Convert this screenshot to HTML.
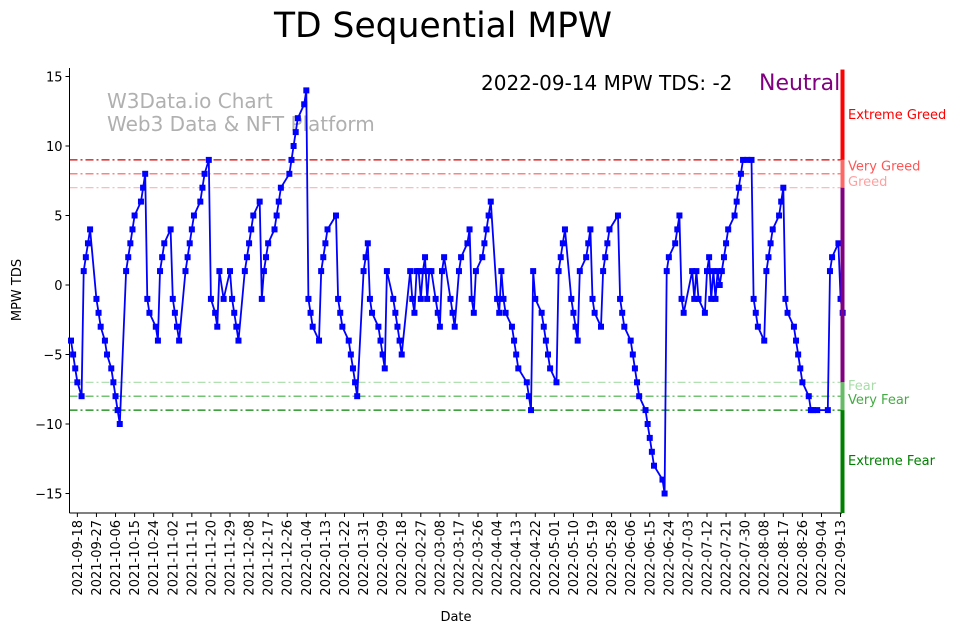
<!DOCTYPE html>
<html><head><meta charset="utf-8"><style>
html,body{margin:0;padding:0;background:#fff;}
svg{display:block;font-family:"DejaVu Sans","Liberation Sans",sans-serif;}
</style></head><body>
<svg id="chart" width="962" height="633" viewBox="0 0 962 633" xmlns="http://www.w3.org/2000/svg">
<text x="443" y="37" font-size="34.5" text-anchor="middle" fill="#000">TD Sequential MPW</text>
<text x="107" y="108" font-size="20" fill="#b0b0b0">W3Data.io Chart</text>
<text x="107" y="131" font-size="20" fill="#b0b0b0">Web3 Data &amp; NFT Platform</text>
<text x="481" y="90" font-size="20" fill="#000">2022-09-14 MPW TDS: -2</text>
<text x="759" y="90" font-size="22" fill="#800080">Neutral</text>
<text x="0" y="0" font-size="13" text-anchor="middle" transform="translate(21,290) rotate(-90)">MPW TDS</text>
<text x="456" y="621" font-size="13" text-anchor="middle">Date</text>
<g id="grid"></g><g id="series"></g><g id="axes"></g><g id="zones"></g>
</svg>
<script>
const days=[
0,1,2,3,5,6,7,8,9,12,
13,14,16,17,19,20,21,22,23,26,
27,28,29,30,33,34,35,36,37,40,
41,42,43,44,47,48,49,50,51,54,
55,56,57,58,61,62,63,65,66,68,
69,70,72,75,76,77,78,79,82,83,
84,85,86,89,90,91,92,93,96,97,
98,99,103,104,105,106,107,110,111,112,
113,114,117,118,119,120,121,125,126,127,
128,131,132,133,134,135,138,139,140,141,
142,145,146,147,148,149,152,153,154,155,
156,160,161,162,163,164,165,166,167,168,
169,170,172,173,174,175,176,179,180,181,
183,184,187,188,189,190,191,194,195,196,
197,198,201,202,203,204,205,208,209,210,
211,215,216,217,218,219,222,223,224,225,
226,229,230,231,232,233,236,237,238,239,
240,243,244,245,246,247,250,251,252,253,
254,258,259,260,261,264,265,266,267,268,
271,272,273,274,275,279,280,281,282,285,
286,287,288,289,293,294,295,296,299,300,
301,302,303,304,305,306,307,308,309,310,
313,314,315,316,317,319,321,322,323,324,
327,328,329,330,331,334,335,336,337,338,
341,342,343,344,345,348,349,350,352,357,
358,359,362,363,364];
const values=[
-4,-5,-6,-7,-8,1,2,3,4,-1,
-2,-3,-4,-5,-6,-7,-8,-9,-10,1,
2,3,4,5,6,7,8,-1,-2,-3,
-4,1,2,3,4,-1,-2,-3,-4,1,
2,3,4,5,6,7,8,9,-1,-2,
-3,1,-1,1,-1,-2,-3,-4,1,2,
3,4,5,6,-1,1,2,3,4,5,
6,7,8,9,10,11,12,13,14,-1,
-2,-3,-4,1,2,3,4,5,-1,-2,
-3,-4,-5,-6,-7,-8,1,2,3,-1,
-2,-3,-4,-5,-6,1,-1,-2,-3,-4,
-5,1,-1,-2,1,1,-1,1,2,-1,
1,1,-1,-2,-3,1,2,-1,-2,-3,
1,2,3,4,-1,-2,1,2,3,4,
5,6,-1,-2,1,-1,-2,-3,-4,-5,
-6,-7,-8,-9,1,-1,-2,-3,-4,-5,
-6,-7,1,2,3,4,-1,-2,-3,-4,
1,2,3,4,-1,-2,-3,1,2,3,
4,5,-1,-2,-3,-4,-5,-6,-7,-8,
-9,-10,-11,-12,-13,-14,-15,1,2,3,
4,5,-1,-2,1,-1,1,-1,-2,1,
2,-1,1,-1,1,0,1,2,3,4,
5,6,7,8,9,9,9,-1,-2,-3,
-4,1,2,3,4,5,6,7,-1,-2,
-3,-4,-5,-6,-7,-8,-9,-9,-9,-9,
1,2,3,-1,-2];
const yTicks=[15,10,5,0,-5,-10,-15];
const thresholds=[9,8,7,-7,-8,-9];
const thresholdColors=["#d40000","#ff5a5a","#ffb0b0","#a8dca8","#44b044","#008000"];
const zoneLabels=["Extreme Greed","Very Greed","Greed","Fear","Very Fear","Extreme Fear"];
const zoneLabelValues=[12.3,8.6,7.5,-7.2,-8.2,-12.6];
const tickCount=41;
const startDate=new Date(Date.UTC(2021,8,18));

const NS="http://www.w3.org/2000/svg";
const X0=69.5,X1=842,Y0=513,Y1=68;
function xs(d){return 71+d*2.12;}
function ys(v){return 285-v*13.9;}
function mk(tag,attrs,parent){const e=document.createElementNS(NS,tag);for(const k in attrs)e.setAttribute(k,attrs[k]);parent.appendChild(e);return e;}
const grid=document.getElementById('grid'),series=document.getElementById('series'),axes=document.getElementById('axes'),zones=document.getElementById('zones');

thresholds.forEach((t,i)=>{
  const l=mk('line',{x1:X0,x2:X1,y1:ys(t),y2:ys(t),stroke:thresholdColors[i],'stroke-width':1.2,'stroke-dasharray':'8,3,2,3'},grid);
  
  
});

const n=Math.min(days.length,values.length);
let pts=[];
for(let i=0;i<n;i++)pts.push(xs(days[i]).toFixed(1)+','+ys(values[i]).toFixed(1));
const pl=mk('polyline',{points:pts.join(' '),fill:'none',stroke:'#0000ff','stroke-width':1.8,'stroke-linejoin':'round'},series);


for(let i=0;i<n;i++){
  const r=mk('rect',{x:xs(days[i])-3,y:ys(values[i])-3,width:6,height:6,fill:'#0000ff'},series);
  
  
}

const segs=[[15.5,9,'#ff0000'],[9,7,'#ff6666'],[7,-7,'#800080'],[-7,-9,'#66bb66'],[-9,-16.5,'#008000']];
segs.forEach(s=>{
  const top=Math.max(Y1,ys(s[0])),bot=Math.min(Y0,ys(s[1]));
  const r=mk('rect',{x:840.5,y:top,width:4,height:bot-top,fill:s[2]},zones);
  
  
});
const labelColors=["#ff0000","#ff5555","#ffa0a0","#a8dca8","#44aa44","#008000"];
zoneLabels.forEach((z,i)=>{
  const t=mk('text',{x:848,y:ys(zoneLabelValues[i])+5,'font-size':13,fill:labelColors[i]},zones);
  t.textContent=z;
  
  
});

const la=mk('line',{x1:X0,x2:X0,y1:Y1,y2:Y0,stroke:'#000','stroke-width':1},axes);


const ba=mk('line',{x1:X0,x2:X1,y1:Y0,y2:Y0,stroke:'#000','stroke-width':1},axes);


yTicks.forEach(v=>{
  mk('line',{x1:X0-4,x2:X0,y1:ys(v),y2:ys(v),stroke:'#000'},axes);
  const t=mk('text',{x:X0-7,y:ys(v)+5,'font-size':13,'text-anchor':'end'},axes);
  t.textContent=v<0?'\u2212'+(-v):String(v);
  
  
});
for(let k=0;k<tickCount;k++){
  const d=3+9*k,x=xs(d);
  mk('line',{x1:x,x2:x,y1:Y0,y2:Y0+4,stroke:'#000'},axes);
  const dt=new Date(startDate.getTime()+k*9*86400000);
  const s=dt.toISOString().slice(0,10);
  const t=mk('text',{x:0,y:0,'font-size':13,'text-anchor':'end',transform:'translate('+(x+4.5)+','+(Y0+7)+') rotate(-90)'},axes);
  t.textContent=s;
  
  
}
</script>
</body></html>
